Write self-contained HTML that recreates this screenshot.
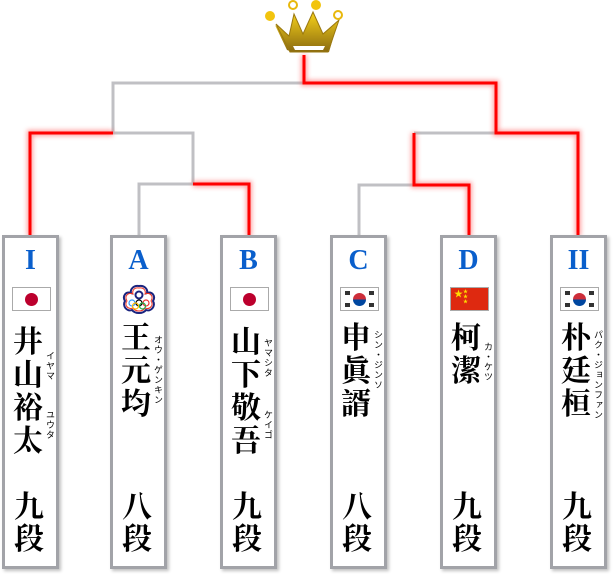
<!DOCTYPE html>
<html><head><meta charset="utf-8"><style>
body{margin:0;width:613px;height:574px;background:#fff;position:relative;overflow:hidden;font-family:"Liberation Serif","Noto Serif CJK SC",serif}
.box{position:absolute;top:235px;width:51px;height:328px;border:3px solid #a2a3a8;background:#fff;box-shadow:2px 2px 3px rgba(0,0,0,.25)}
.let{position:absolute;top:8px;left:0;width:51px;text-align:center;color:#0a5fcc;font-weight:bold;font-size:28px;line-height:30px;font-family:"Liberation Serif",serif}
.flag{position:absolute;top:49px;left:7px;width:37px;height:22px;border:1px solid #aaa;background:#fff;overflow:hidden}
.nm{position:absolute;left:4px;width:38px;text-align:center;font-weight:bold;font-size:30px;line-height:33px;color:#000}
.rk{position:absolute;top:254px;left:4px;width:40px;text-align:center;font-weight:bold;font-size:30px;line-height:32px;color:#000}
.fu{position:absolute;writing-mode:vertical-rl;font-size:9px;line-height:10px;color:#000;font-family:"Noto Sans CJK JP",sans-serif;letter-spacing:1px}
</style></head><body>
<svg width="613" height="574" style="position:absolute;left:0;top:0">
<defs><filter id="g" x="-50%" y="-50%" width="200%" height="200%"><feGaussianBlur stdDeviation="2.5"/></filter></defs>
<g fill="none" stroke-width="3" stroke-linejoin="miter">
<polyline points="304,83 113,83 113,133 193,133 193,184 139,184 139,236" stroke="#c0c0c4"/>
<polyline points="414,133 496,133" stroke="#c0c0c4"/>
<polyline points="414,185 359,185 359,236" stroke="#c0c0c4"/>
<g stroke="#ff6060" stroke-width="6" filter="url(#g)" opacity=".6">
<polyline points="304,55 304,83 496,83 496,133 578,133 578,236"/>
<polyline points="414,133 414,185 469,185 469,236"/>
<polyline points="113,133 30,133 30,236"/>
<polyline points="193,184 249,184 249,236"/>
</g>
<g stroke="#ff0000">
<polyline points="304,55 304,83 496,83 496,133 578,133 578,236"/>
<polyline points="414,133 414,185 469,185 469,236"/>
<polyline points="113,133 30,133 30,236"/>
<polyline points="193,184 249,184 249,236"/>
</g>
</g>
<!-- crown -->
<defs><linearGradient id="cg" x1="0" y1="0" x2="0" y2="1"><stop offset="0" stop-color="#f7d21a"/><stop offset="1" stop-color="#8a6a10"/></linearGradient></defs>
<path d="M275,25 L287,50 L293,52 L329,52 L338,22 L322,34 L312,14 L303,35 L294,16 L290,38 Z M287,45 L291,50 L329,50 L332,40 Z" fill="url(#cg)"/>
<path d="M276,24 L290,52 L328,52 L339,20 L323,34 L313,12 L303,34 L294,14 L289,36 Z" fill="url(#cg)" stroke="#9a7810" stroke-width="1"/>
<path d="M293,46 L325,46 L323,50 L295,50 Z" fill="#fff"/>
<circle cx="270" cy="16" r="5" fill="#f2c40e"/>
<circle cx="293" cy="5" r="4" fill="none" stroke="#e8b80c" stroke-width="2"/>
<circle cx="316" cy="5" r="5" fill="#f2c40e"/>
<circle cx="338" cy="15" r="4" fill="none" stroke="#e8b80c" stroke-width="2"/>
</svg>

<div class="box" style="left:2px"><div class="let">I</div>
<div class="flag"><div style="position:absolute;left:12px;top:5px;width:13px;height:13px;border-radius:50%;background:#bc002d"></div></div>
<div class="nm" style="top:88px">井<br>山<br>裕<br>太</div>
<div class="fu" style="left:40px;top:113px">イヤマ</div><div class="fu" style="left:40px;top:172px">ユウタ</div>
<div class="rk">九<br>段</div></div>

<div class="box" style="left:110px"><div class="let">A</div>
<svg style="position:absolute;top:46px;left:8px" width="36" height="30" viewBox="0 0 36 30"><path d="M18,2 C24,1 27,6 26,9 C31,7 35,12 32,17 C35,22 30,28 25,26 C22,30 14,30 11,26 C6,28 1,22 4,17 C1,12 5,7 10,9 C9,6 12,1 18,2Z" fill="#fff" stroke="#1a237e" stroke-width="2"/><path d="M18,4 C23,3 25,7 24,10 C29,8 33,12 30,17 C33,21 29,26 24,24 C22,28 14,28 12,24 C7,26 3,21 6,17 C3,12 7,8 12,10 C11,7 13,3 18,4Z" fill="none" stroke="#e32" stroke-width="1"/><circle cx="18" cy="11" r="3.5" fill="none" stroke="#1a237e" stroke-width="2"/><g fill="none" stroke-width="1.2"><circle cx="11" cy="19" r="3" stroke="#39f"/><circle cx="18" cy="19" r="3" stroke="#000"/><circle cx="25" cy="19" r="3" stroke="#e33"/><circle cx="14.5" cy="22" r="3" stroke="#fb0"/><circle cx="21.5" cy="22" r="3" stroke="#2a4"/></g></svg>
<div class="nm" style="top:84px">王<br>元<br>均</div>
<div class="fu" style="left:40px;top:97px">オウ・ゲンキン</div>
<div class="rk">八<br>段</div></div>

<div class="box" style="left:220px"><div class="let">B</div>
<div class="flag"><div style="position:absolute;left:12px;top:5px;width:13px;height:13px;border-radius:50%;background:#bc002d"></div></div>
<div class="nm" style="top:88px">山<br>下<br>敬<br>吾</div>
<div class="fu" style="left:40px;top:100px">ヤマシタ</div><div class="fu" style="left:40px;top:172px">ケイゴ</div>
<div class="rk">九<br>段</div></div>

<div class="box" style="left:330px"><div class="let">C</div>
<div class="flag"><div style="position:absolute;left:12px;top:5px;width:13px;height:13px;border-radius:50%;background:linear-gradient(#cd2e3a 50%,#0047a0 50%)"></div><div style="position:absolute;left:4px;top:3px;width:5px;height:4px;background:#333"></div><div style="position:absolute;right:4px;top:3px;width:5px;height:4px;background:#333"></div><div style="position:absolute;left:4px;bottom:3px;width:5px;height:4px;background:#333"></div><div style="position:absolute;right:4px;bottom:3px;width:5px;height:4px;background:#333"></div></div>
<div class="nm" style="top:84px">申<br>眞<br>諝</div>
<div class="fu" style="left:40px;top:92px">シン・ジンソ</div>
<div class="rk">八<br>段</div></div>

<div class="box" style="left:440px"><div class="let">D</div>
<div class="flag" style="background:#de2910"><div style="position:absolute;left:3px;top:2px;color:#ffde00;font-size:9px;line-height:9px">★</div><div style="position:absolute;left:12px;top:2px;color:#ffde00;font-size:5px;line-height:5px">★<br>★<br>★</div></div>
<div class="nm" style="top:84px">柯<br>潔</div>
<div class="fu" style="left:40px;top:104px">カ・ケツ</div>
<div class="rk">九<br>段</div></div>

<div class="box" style="left:550px"><div class="let">II</div>
<div class="flag"><div style="position:absolute;left:12px;top:5px;width:13px;height:13px;border-radius:50%;background:linear-gradient(#cd2e3a 50%,#0047a0 50%)"></div><div style="position:absolute;left:4px;top:3px;width:5px;height:4px;background:#333"></div><div style="position:absolute;right:4px;top:3px;width:5px;height:4px;background:#333"></div><div style="position:absolute;left:4px;bottom:3px;width:5px;height:4px;background:#333"></div><div style="position:absolute;right:4px;bottom:3px;width:5px;height:4px;background:#333"></div></div>
<div class="nm" style="top:84px">朴<br>廷<br>桓</div>
<div class="fu" style="left:40px;top:92px">パク・ジョンファン</div>
<div class="rk">九<br>段</div></div>
</body></html>
